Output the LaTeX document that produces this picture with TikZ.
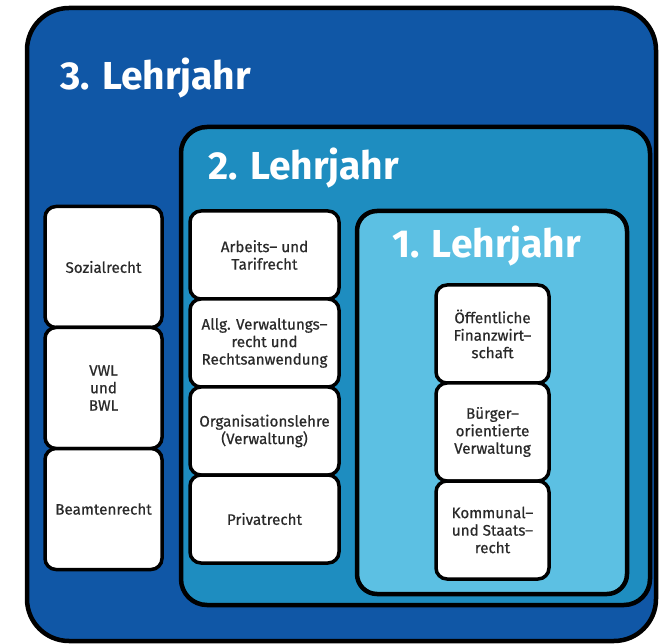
\documentclass[tikz,border=0pt]{standalone}
\usepackage{fontspec}
\setmainfont{Fira Sans}
\newfontfamily\fachfont[FakeBold=0.6]{Fira Sans}
\usetikzlibrary{positioning}

\definecolor{jahrdrei}{HTML}{1057A6}
\definecolor{jahrzwei}{HTML}{1E8DC0}
\definecolor{jahreins}{HTML}{5CC0E3}
\definecolor{fachtext}{HTML}{2A2A2A}

\begin{document}
\begin{tikzpicture}[x=1pt,y=-1pt,
	jahrbox/.style={draw=black, line width=4.5pt, anchor=north west, inner sep=0pt, outer sep=0pt},
	fach/.style={draw=black, line width=3.5pt, fill=white, rounded corners=11pt, align=center,
		text=fachtext, font=\fachfont\fontsize{15.2}{17.5}\selectfont, inner sep=0pt, outer sep=0pt},
	titel/.style={anchor=base west, text=white, inner sep=0pt, font=\fontsize{39}{39}\selectfont\bfseries}]
\useasboundingbox (0,0) rectangle (659,644);

% die drei Lehrjahre
\node[jahrbox, fill=jahrdrei, rounded corners=42pt, minimum width=629pt, minimum height=633pt] (lj3) at (27,8) {};
\node[titel] (t3) at (60,90) {3. Lehrjahr};

\node[jahrbox, fill=jahrzwei, rounded corners=26pt, minimum width=469pt, minimum height=478pt] (lj2) at (181,127) {};
\node[titel] (t2) at (208,180) {2. Lehrjahr};

\node[jahrbox, fill=jahreins, rounded corners=20pt, minimum width=270pt, minimum height=383pt] (lj1) at (357,211) {};
\node[titel] (t1) at (392,258) {1. Lehrjahr};

% 3. Lehrjahr
\node[fach, minimum width=117pt, minimum height=121pt] (soz) at (103.5,267) {Sozialrecht};
\node[fach, minimum width=117pt, minimum height=121pt, below=0pt of soz] (vwl) {VWL\\und\\BWL};
\node[fach, minimum width=117pt, minimum height=121pt, below=0pt of vwl] (beamt) {Beamtenrecht};

% 2. Lehrjahr
\node[fach, minimum width=149pt, minimum height=88pt] (arb) at (264.5,255) {Arbeits– und\\Tarifrecht};
\node[fach, minimum width=149pt, minimum height=88pt, below=0pt of arb] (allg) {Allg. Verwaltungs–\\recht und\\Rechtsanwendung};
\node[fach, minimum width=149pt, minimum height=88pt, below=0pt of allg] (orga) {Organisationslehre\\(Verwaltung)};
\node[fach, minimum width=149pt, minimum height=88pt, below=0pt of orga] (priv) {Privatrecht};

% 1. Lehrjahr
\node[fach, minimum width=113pt, minimum height=98pt] (fin) at (492.5,334) {Öffentliche\\Finanzwirt–\\schaft};
\node[fach, minimum width=113pt, minimum height=98pt, below=0pt of fin] (buerg) {Bürger–\\orientierte\\Verwaltung};
\node[fach, minimum width=113pt, minimum height=98pt, below=0pt of buerg] (komm) {Kommunal–\\und Staats–\\recht};

\end{tikzpicture}
\end{document}
